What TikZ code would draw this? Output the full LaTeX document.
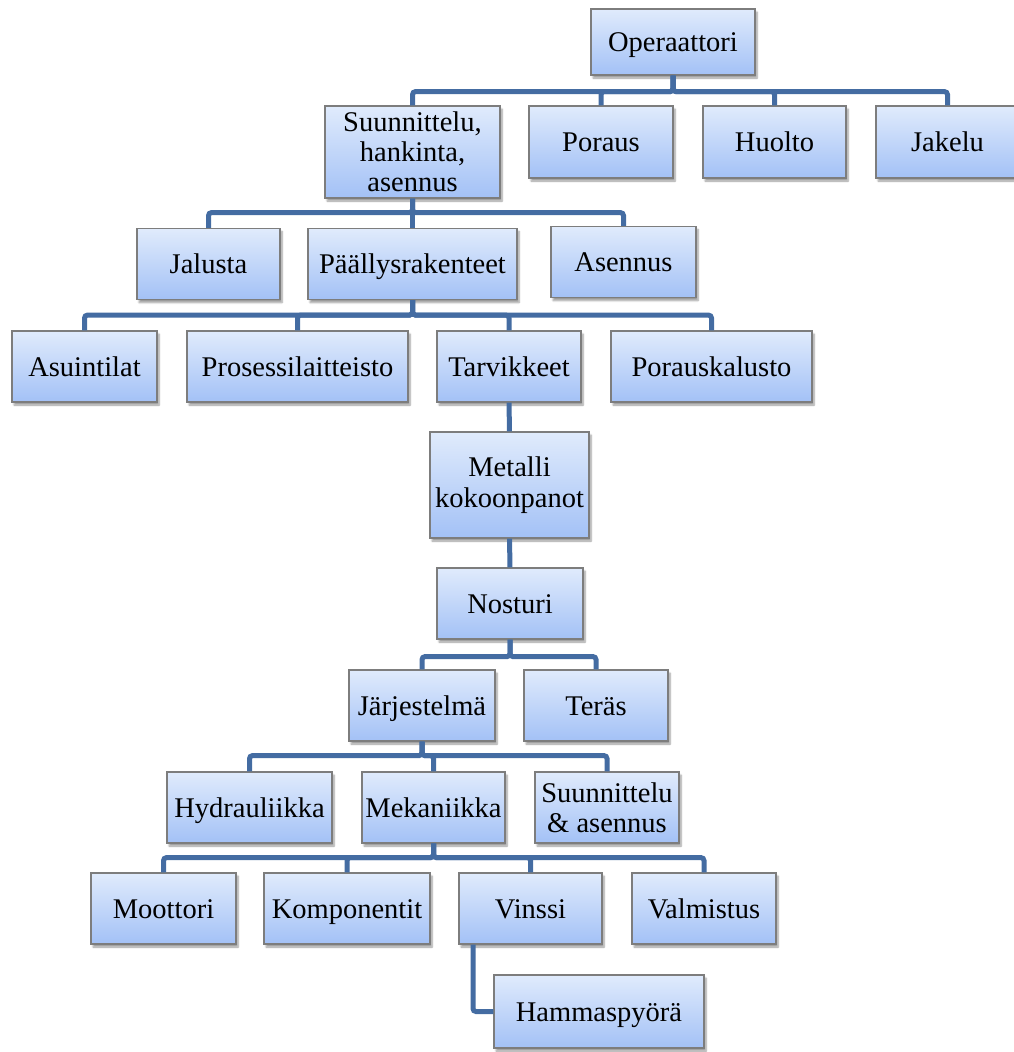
\documentclass[tikz,border=0pt]{standalone}
\usepackage{fontspec}
\setmainfont{Liberation Serif}
\usetikzlibrary{shadows.blur}
\definecolor{boxtop}{RGB}{224,235,252}
\definecolor{boxbot}{RGB}{163,193,246}
\definecolor{boxline}{RGB}{125,125,125}
\definecolor{linkblue}{RGB}{68,108,162}
\begin{document}
\begin{tikzpicture}[x=1pt,y=-1pt,
   box/.style={draw=boxline,line width=1.2pt,top color=boxtop,bottom color=boxbot,
      minimum height=71pt,align=center,inner sep=2pt,text height=19pt,text depth=0pt,
      font=\fontsize{28.5}{30}\selectfont,
      blur shadow={shadow xshift=2pt,shadow yshift=-3pt,shadow opacity=40,shadow blur steps=6}},
   multi/.style={text height=,text depth=},
   link/.style={draw=linkblue,line width=5pt,rounded corners=3pt}]
\useasboundingbox (0,0) rectangle (1013,1052);
% top level
\node[box,minimum width=164pt,minimum height=66pt] (op) at (673,42) {Operaattori};
\node[box,multi,minimum width=175pt,minimum height=92pt] (suun) at (412.5,152) {Suunnittelu,\\hankinta,\\asennus};
\node[box,minimum width=144pt,minimum height=72pt] (por) at (601,142) {Poraus};
\node[box,minimum width=143pt,minimum height=72pt] (huo) at (774.5,142) {Huolto};
\node[box,minimum width=143pt,minimum height=72pt] (jak) at (947.5,142) {Jakelu};
% second level
\node[box,minimum width=143pt] (jal) at (208.5,264) {Jalusta};
\node[box,minimum width=209pt] (paal) at (412.5,264) {Päällysrakenteet};
\node[box,minimum width=145pt] (ase) at (623.5,262) {Asennus};
% third level
\node[box,minimum width=145pt] (asu) at (84.5,366.5) {Asuintilat};
\node[box,minimum width=221pt] (pros) at (297.5,366.5) {Prosessilaitteisto};
\node[box,minimum width=144pt] (tarv) at (509,366.5) {Tarvikkeet};
\node[box,minimum width=201pt] (porak) at (711.5,366.5) {Porauskalusto};
\node[box,multi,minimum width=159pt,minimum height=106pt,font=\fontsize{28.5}{31}\selectfont] (met) at (509.5,485) {Metalli\\kokoonpanot};
\node[box,minimum width=146pt] (nos) at (510,603.5) {Nosturi};
\node[box,minimum width=146pt] (jarj) at (422,705.5) {Järjestelmä};
\node[box,minimum width=144pt] (ter) at (596,705.5) {Teräs};
\node[box,minimum width=165pt] (hyd) at (249.5,807.5) {Hydrauliikka};
\node[box,minimum width=143pt] (mek) at (433.5,807.5) {Mekaniikka};
\node[box,multi,minimum width=144pt] (suas) at (607,807.5) {Suunnittelu\\\& asennus};
\node[box,minimum width=145pt] (moo) at (163.5,908.5) {Moottori};
\node[box,minimum width=166pt] (komp) at (347,908.5) {Komponentit};
\node[box,minimum width=143pt] (vin) at (530.5,908.5) {Vinssi};
\node[box,minimum width=144pt] (valm) at (704,908.5) {Valmistus};
\node[box,minimum width=210pt,minimum height=73pt] (ham) at (599,1011.5) {Hammaspyörä};
% connectors
\foreach \c in {suun,por,huo,jak} \draw[link] (op.south) -- ++(0,16) -| (\c.north);
\foreach \c in {jal,paal,ase} \draw[link] (suun.south) -- ++(0,14) -| (\c.north);
\foreach \c in {asu,pros,tarv,porak} \draw[link] (paal.south) -- ++(0,15) -| (\c.north);
\draw[link] (tarv.south) -- (met.north);
\draw[link] (met.south) -- (nos.north);
\foreach \c in {jarj,ter} \draw[link] (nos.south) -- ++(0,17) -| (\c.north);
\foreach \c in {hyd,mek,suas} \draw[link] (jarj.south) -- ++(0,14) -| (\c.north);
\foreach \c in {moo,komp,vin,valm} \draw[link] (mek.south) -- ++(0,14) -| (\c.north);
\draw[link] ([xshift=-57.5pt]vin.south) |- (ham.west);
\end{tikzpicture}
\end{document}
